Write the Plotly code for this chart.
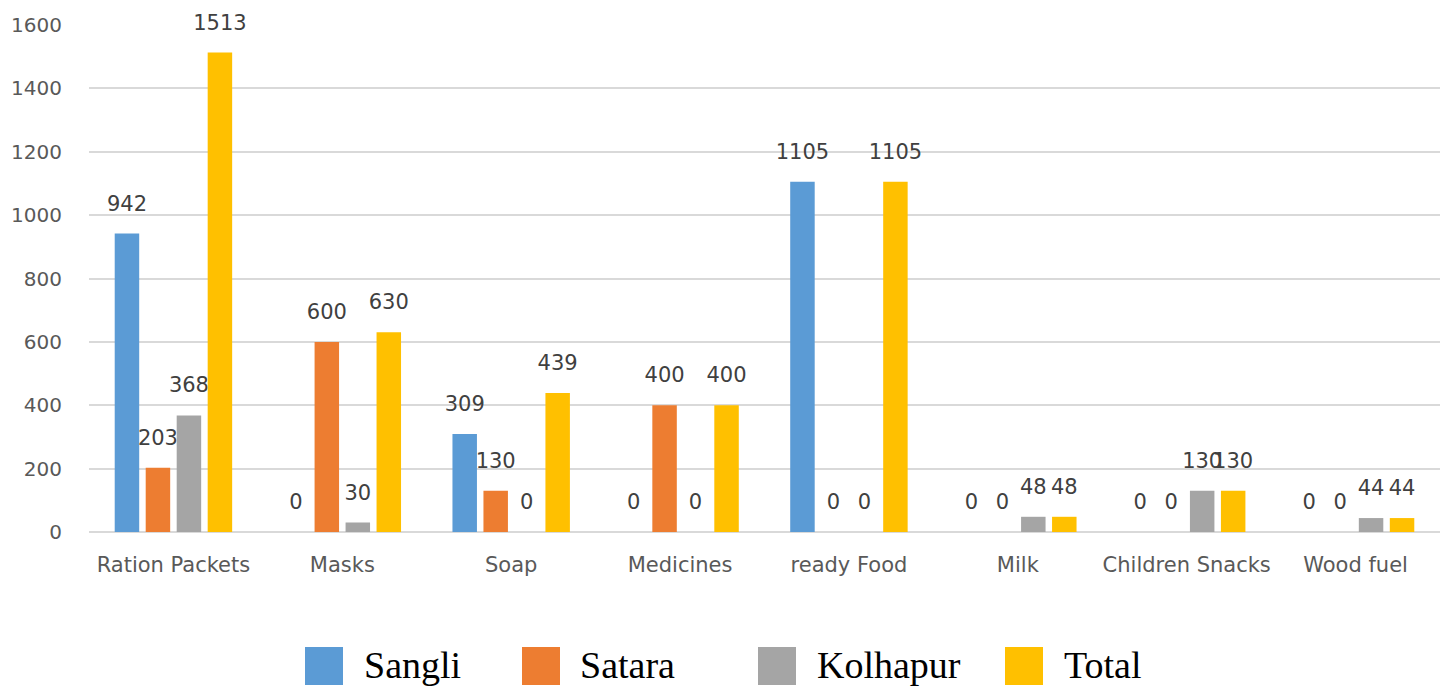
import plotly.graph_objects as go

categories = ["Ration Packets", "Masks", "Soap", "Medicines", "ready Food", "Milk", "Children Snacks", "Wood fuel"]
series_names = ["Sangli", "Satara", "Kolhapur", "Total"]
sangli = [942, 0, 309, 0, 1105, 0, 0, 0]
satara = [203, 600, 130, 400, 0, 0, 0, 0]
kolhapur = [368, 30, 0, 0, 0, 48, 130, 44]
total = [1513, 630, 439, 400, 1105, 48, 130, 44]
y_ticks = [0, 200, 400, 600, 800, 1000, 1200, 1400, 1600]

colors = ["#5B9BD5", "#ED7D31", "#A5A5A5", "#FFC000"]
values = [sangli, satara, kolhapur, total]

fig = go.Figure()
for name, vals, col in zip(series_names, values, colors):
    fig.add_trace(go.Bar(
        x=categories, y=vals, name=name, marker=dict(color=col, line=dict(width=0)),
        text=vals, texttemplate="<span style='font-size:21px'>%{y}</span><br> ",
        textposition="outside",
        constraintext="none", cliponaxis=False,
        textfont=dict(family="DejaVu Sans", size=13, color="#404040"),
        showlegend=False,
    ))

W, H = 1440, 688
L, R, T, B = 89, 0, 25, 156
pw, ph = W - L - R, H - T - B

def px(x):
    return (x - L) / pw

def py(y):
    return (H - B - y) / ph

shapes = []
annotations = []
sw_x = [305, 522, 758, 1005]
tx_x = [362, 578, 815, 1062]
for i, name in enumerate(series_names):
    shapes.append(dict(type="rect", xref="paper", yref="paper",
                       x0=px(sw_x[i]), x1=px(sw_x[i] + 38), y0=py(685), y1=py(647),
                       fillcolor=colors[i], line=dict(width=0)))
    annotations.append(dict(xref="paper", yref="paper", x=px(tx_x[i]), y=py(665),
                            xanchor="left", yanchor="middle", showarrow=False, text=name,
                            font=dict(family="Liberation Serif", size=38, color="#000000")))

fig.update_layout(
    width=W, height=H,
    margin=dict(l=L, r=R, t=T, b=B, pad=0),
    paper_bgcolor="white", plot_bgcolor="white",
    barmode="group", bargap=0.266, bargroupgap=0.21,
    shapes=shapes, annotations=annotations,
    showlegend=False,
    xaxis=dict(showgrid=False, showline=False, ticks="outside", ticklen=14,
               tickcolor="rgba(0,0,0,0)",
               tickfont=dict(family="DejaVu Sans", size=21, color="#595959")),
    yaxis=dict(range=[0, 1600], tickvals=y_ticks, showgrid=True, gridcolor="#D9D9D9",
               gridwidth=2, zeroline=True, zerolinecolor="#D9D9D9", zerolinewidth=2,
               showline=False, ticks="outside", ticklen=22, tickcolor="rgba(0,0,0,0)",
               tickfont=dict(family="DejaVu Sans", size=20, color="#595959")),
)

fig.write_html("out.html", config={"displayModeBar": False},
               post_script="document.body.style.margin='0';")
